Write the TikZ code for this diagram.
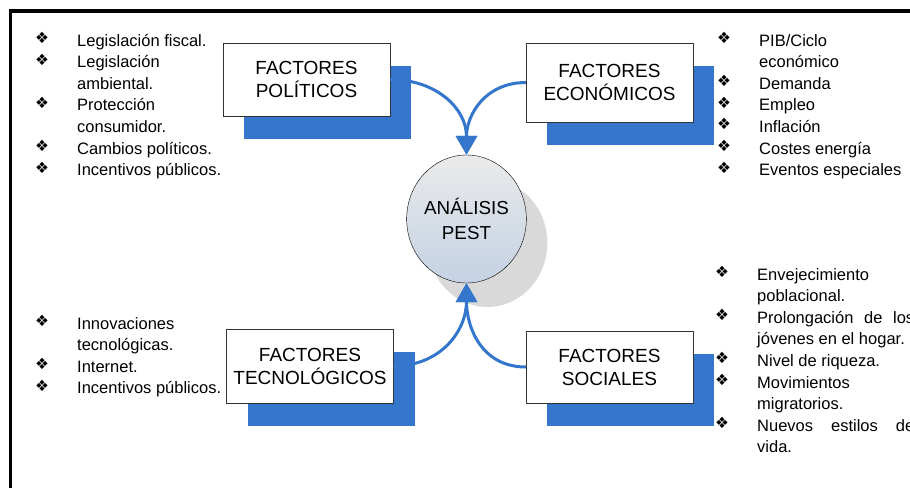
\documentclass[tikz,border=0pt]{standalone}
\usepackage{fontspec}
\setmainfont{Liberation Sans}
\newfontfamily\dingfont{DejaVu Sans}
\definecolor{pestblue}{RGB}{52, 118, 204}
\definecolor{pestshade}{RGB}{217, 217, 217}
\definecolor{pesttop}{RGB}{234, 234, 234}
\definecolor{pestbottom}{RGB}{196, 210, 228}
\usepackage{tikz}
\usetikzlibrary{shapes, arrows.meta, positioning, calc, shadows}

\newcommand{\bul}{\makebox[42pt][l]{\raisebox{2.5pt}{\dingfont\fontsize{15.5}{15.5}\selectfont ❖}}}

\begin{document}
\begin{tikzpicture}[x=1pt, y=1pt,
    factor/.style={draw=black!80, thin, fill=white, minimum width=167pt,
      align=center, font=\fontsize{19}{23}\selectfont,
      general shadow={fill=pestblue, shadow xshift=21pt, shadow yshift=-23pt}},
    listtxt/.style={anchor=base west, inner sep=0pt,
      font=\fontsize{16.5}{21.6}\selectfont},
    flow/.style={draw=pestblue, line width=3pt,
      -{Triangle[width=21pt, length=19pt]}}]

    \useasboundingbox (0,0) rectangle (910,-488);
    % Frame
    \draw[line width=3.5pt] (10.5,-488) -- (10.5,-11) -- (910,-11);

    % Centre
    \node[ellipse, draw, thin, inner sep=0pt, minimum width=119pt,
          minimum height=128pt, top color=pesttop, bottom color=pestbottom,
          general shadow={fill=pestshade, shadow xshift=21pt, shadow yshift=-24pt},
          align=center, font=\fontsize{18.8}{25}\selectfont] (pest) at (466.5,-219)
      {ANÁLISIS\\PEST};

    % Factor boxes
    \node[factor, minimum height=73pt] (pol) at (306.5,-79.5) {FACTORES\\POLÍTICOS};
    \node[factor, minimum height=79pt] (eco) at (609.5,-82.5) {FACTORES\\ECONÓMICOS};
    \node[factor, minimum height=74pt] (tec) at (310,-366) {FACTORES\\TECNOLÓGICOS};
    \node[factor, minimum height=72pt] (soc) at (609.5,-367) {FACTORES\\SOCIALES};

    % Arrows into the centre
    \draw[flow] (pol.east) to[out=0, in=90, looseness=1.1] (pest.north);
    \draw[flow] (eco.west) to[out=180, in=90, looseness=1.1] (pest.north);
    \draw[flow] (tec.east) to[out=0, in=-90, looseness=1.1] (pest.south);
    \draw[flow] (soc.west) to[out=180, in=-90, looseness=1.1] (pest.south);

    % Lists
    \node[listtxt] (polist) at (35,-46) {\begin{tabular}[t]{@{}l@{}l@{}}
      \bul & Legislación fiscal.\\
      \bul & Legislación\\
           & ambiental.\\
      \bul & Protección\\
           & consumidor.\\
      \bul & Cambios políticos.\\
      \bul & Incentivos públicos.
    \end{tabular}};
    \node[listtxt] (ecolist) at (717,-46) {\begin{tabular}[t]{@{}l@{}l@{}}
      \bul & PIB/Ciclo\\
           & económico\\
      \bul & Demanda\\
      \bul & Empleo\\
      \bul & Inflación\\
      \bul & Costes energía\\
      \bul & Eventos especiales
    \end{tabular}};
    \node[listtxt] (teclist) at (35,-329) {\begin{tabular}[t]{@{}l@{}l@{}}
      \bul & Innovaciones\\
           & tecnológicas.\\
      \bul & Internet.\\
      \bul & Incentivos públicos.
    \end{tabular}};
    \node[listtxt] (soclist) at (715,-280) {\begin{tabular}[t]{@{}l@{}l@{}}
      \bul & Envejecimiento\\
           & poblacional.\\
      \bul & \makebox[157pt][s]{Prolongación de los}\\
           & jóvenes en el hogar.\\
      \bul & Nivel de riqueza.\\
      \bul & Movimientos\\
           & migratorios.\\
      \bul & \makebox[157pt][s]{Nuevos estilos de}\\
           & vida.
    \end{tabular}};
\end{tikzpicture}
\end{document}
